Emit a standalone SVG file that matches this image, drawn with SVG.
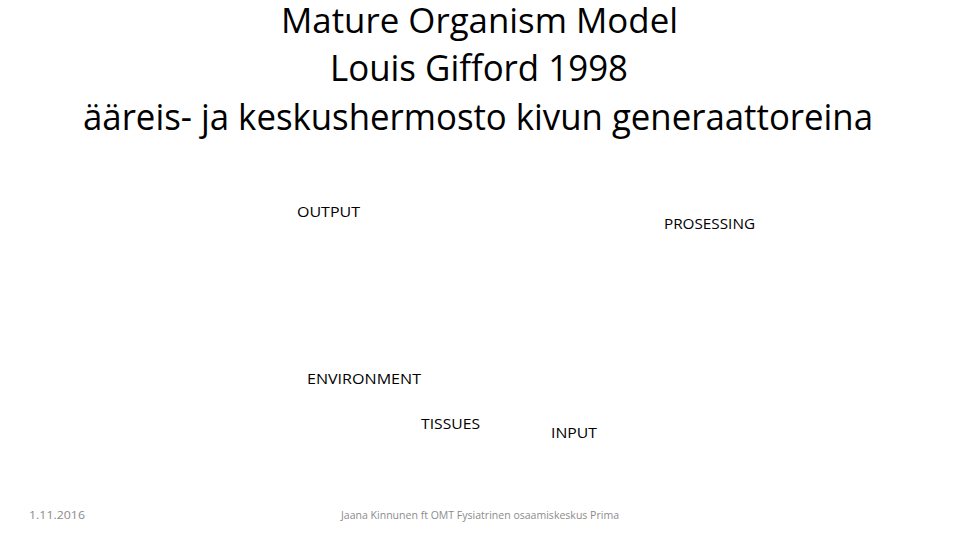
<svg xmlns="http://www.w3.org/2000/svg" width="960" height="540" viewBox="0 0 960 540">
<style>
text{font-family:"Open Sans","Liberation Sans",sans-serif;fill:#000}
.t{font-size:37px}
.l{font-size:15px}
.f{font-size:11px;fill:#8c8c8c}
</style>
<rect width="960" height="540" fill="#fff"/>
<g id="title">
<text class="t" x="281" y="33" style="font-size:35px" textLength="397" lengthAdjust="spacingAndGlyphs">Mature Organism Model</text>
<text class="t" x="330" y="81" textLength="298" lengthAdjust="spacingAndGlyphs">Louis Gifford 1998</text>
<text class="t" x="83" y="130" textLength="790" lengthAdjust="spacingAndGlyphs">ääreis- ja keskushermosto kivun generaattoreina</text>
</g>
<g id="output"><text class="l" x="297" y="217" textLength="63" lengthAdjust="spacingAndGlyphs">OUTPUT</text></g>
<g id="prosessing"><text class="l" x="664" y="229" textLength="91" lengthAdjust="spacingAndGlyphs">PROSESSING</text></g>
<g id="environment"><text class="l" x="307" y="384" textLength="114" lengthAdjust="spacingAndGlyphs">ENVIRONMENT</text></g>
<g id="tissues"><text class="l" x="421" y="429" textLength="59" lengthAdjust="spacingAndGlyphs">TISSUES</text></g>
<g id="input"><text class="l" x="551" y="438" textLength="46" lengthAdjust="spacingAndGlyphs">INPUT</text></g>
<g id="connectors"></g>
<g id="footer">
<text class="f" x="29" y="519" textLength="56" lengthAdjust="spacingAndGlyphs">1.11.2016</text>
<text class="f" x="341" y="519" textLength="278" lengthAdjust="spacingAndGlyphs">Jaana Kinnunen ft OMT Fysiatrinen osaamiskeskus Prima</text>
</g>
</svg>
